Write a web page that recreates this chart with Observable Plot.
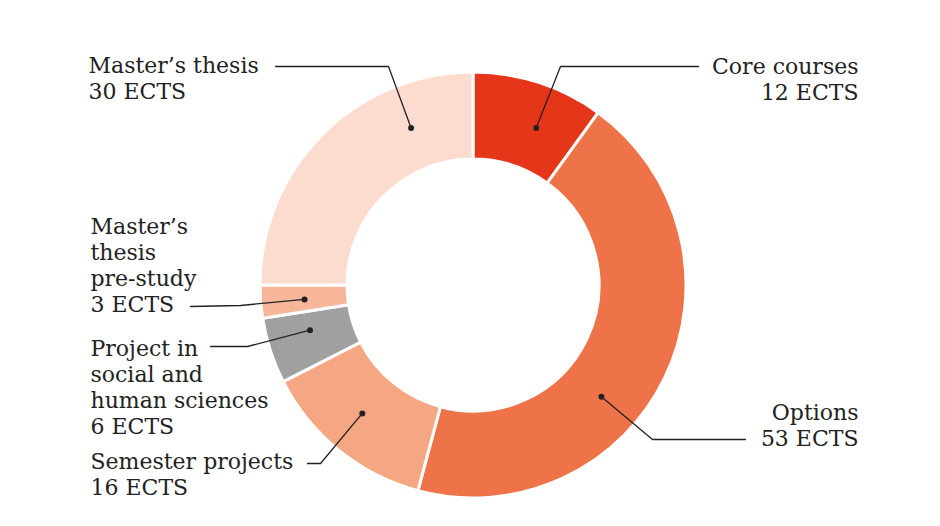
<!DOCTYPE html>
<html><head><meta charset="utf-8">
<script src="https://cdn.jsdelivr.net/npm/d3@7"></script>
<script src="https://cdn.jsdelivr.net/npm/@observablehq/plot@0.6"></script>
<style>body{margin:0;background:#fff}</style>
</head><body><div id="chart"></div>
<script>
// ---- data ----
const categories = ["Core courses", "Options", "Semester projects", "Project in social and human sciences", "Master’s thesis pre-study", "Master’s thesis"];
const credits = [12, 53, 16, 6, 3, 30];
const labels = ["Core courses", "Options", "Semester projects", "Project in\nsocial and\nhuman sciences", "Master’s\nthesis\npre-study", "Master’s thesis"];
const unit = "ECTS";
const colors = ["#E6361A", "#EE7349", "#F5A682", "#A0A0A0", "#F7B699", "#FCDCCE"];

// ---- layout (pixels) ----
const W = 940, H = 526, cx = 473, cy = 285, R = 213, R0 = 126, Rm = (R + R0) / 2;
const layout = [
  {angle: 21.7,  elbow: [560, 66],  end: [698, 66],  anchor: "end",   tx: 858, ty: 99},
  {angle: 131,   elbow: [652, 439], end: [745, 439], anchor: "end",   tx: 858, ty: 445},
  {angle: 221,   elbow: [320, 463], end: [307, 463], anchor: "start", tx: 90,  ty: 494},
  {angle: 254.7, elbow: [247, 346], end: [210, 346], anchor: "start", tx: 90,  ty: 433},
  {angle: 265.3, elbow: [240, 305], end: [190, 306], anchor: "start", tx: 90,  ty: 311},
  {angle: 338.4, elbow: [388, 66],  end: [275, 66],  anchor: "start", tx: 88,  ty: 98}
];

const rows = categories.map((c, i) => ({category: c, credits: credits[i], label: `${labels[i]}\n${credits[i]} ${unit}`, ...layout[i]}));
const arcs = d3.pie().sort(null).value(d => d.credits)(rows);
const color = d3.scaleOrdinal(categories, colors);

const dots = rows.map(d => {
  const a = d.angle * Math.PI / 180;
  return {category: d.category, x: Rm * Math.sin(a), y: -Rm * Math.cos(a)};
});
const leaders = rows.flatMap((d, i) => [
  {category: d.category, x: dots[i].x, y: dots[i].y},
  {category: d.category, x: d.elbow[0] - cx, y: d.elbow[1] - cy},
  {category: d.category, x: d.end[0] - cx, y: d.end[1] - cy}
]);

function donut(index, scales) {
  const g = d3.create("svg:g")
    .attr("transform", `translate(${scales.x(0)},${scales.y(0)})`);
  const arc = d3.arc().innerRadius(R0).outerRadius(R);
  g.selectAll("path").data(arcs).join("path")
    .attr("d", arc)
    .attr("fill", d => color(d.data.category))
    .attr("stroke", "#fff")
    .attr("stroke-width", 3)
    .attr("stroke-linejoin", "miter");
  return g.node();
}

const chart = Plot.plot({
  width: W, height: H, margin: 0,
  style: {background: "#fff", overflow: "visible"},
  x: {domain: [-cx, W - cx], range: [0, W], axis: null},
  y: {domain: [-cy, H - cy], range: [0, H], axis: null},
  marks: [
    donut,
    Plot.line(leaders, {x: "x", y: "y", z: "category", stroke: "#222", strokeWidth: 1.3, curve: "linear"}),
    Plot.dot(dots, {x: "x", y: "y", r: 3, fill: "#222", stroke: null}),
    Plot.text(rows.filter(d => d.anchor === "end"), {x: d => d.tx - cx, y: d => d.ty - cy, text: "label", textAnchor: "end", lineAnchor: "bottom", lineHeight: 26 / 22, fontSize: 22, fontFamily: "DejaVu Serif", fill: "#222"}),
    Plot.text(rows.filter(d => d.anchor === "start"), {x: d => d.tx - cx, y: d => d.ty - cy, text: "label", textAnchor: "start", lineAnchor: "bottom", lineHeight: 26 / 22, fontSize: 22, fontFamily: "DejaVu Serif", fill: "#222"})
  ]
});
document.getElementById("chart").append(chart);
</script>
</body></html>
